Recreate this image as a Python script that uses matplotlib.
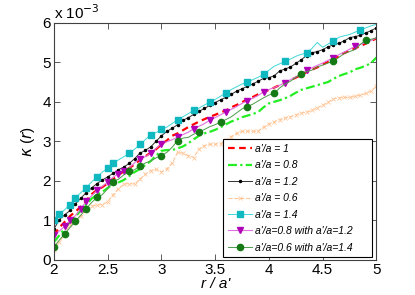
import numpy as np
import matplotlib.pyplot as plt

plt.rcParams['font.family'] = ['Liberation Sans', 'DejaVu Sans']

# r / a' grid
r = np.round(np.arange(2.0, 5.0001, 0.05), 2)

# kappa(r) in units of 1e-3
k_10 = [0.63, 0.82, 0.96, 1.11, 1.22, 1.35, 1.50, 1.66, 1.77, 1.84,
        1.94, 2.04, 2.15, 2.24, 2.32, 2.42, 2.53, 2.62, 2.71, 2.80,
        2.92, 3.02, 3.14, 3.20, 3.28, 3.36, 3.43, 3.50, 3.56, 3.62,
        3.67, 3.73, 3.78, 3.86, 3.92, 3.99, 4.06, 4.12, 4.19, 4.25,
        4.30, 4.36, 4.42, 4.48, 4.55, 4.61, 4.68, 4.75, 4.81, 4.87,
        4.94, 5.01, 5.08, 5.15, 5.23, 5.29, 5.35, 5.41, 5.47, 5.54, 5.60]
k_08 = [0.45, 0.62, 0.80, 0.95, 1.10, 1.25, 1.40, 1.55, 1.64, 1.72,
        1.82, 1.92, 1.96, 2.02, 2.12, 2.22, 2.30, 2.40, 2.50, 2.64,
        2.76, 2.78, 2.78, 2.82, 2.87, 2.95, 3.05, 3.14, 3.20, 3.24,
        3.29, 3.36, 3.43, 3.50, 3.55, 3.61, 3.65, 3.69, 3.74, 3.86,
        3.96, 4.00, 4.04, 4.09, 4.15, 4.23, 4.30, 4.34, 4.38, 4.42,
        4.46, 4.50, 4.58, 4.65, 4.70, 4.74, 4.82, 4.86, 4.91, 4.98, 5.12]
k_12 = [0.78, 1.02, 1.14, 1.25, 1.42, 1.56, 1.70, 1.82, 1.93, 2.02,
        2.10, 2.19, 2.28, 2.35, 2.44, 2.56, 2.70, 2.77, 2.86, 3.00,
        3.14, 3.25, 3.33, 3.42, 3.53, 3.60, 3.68, 3.76, 3.83, 3.91,
        3.98, 4.05, 4.11, 4.19, 4.27, 4.33, 4.39, 4.45, 4.52, 4.59,
        4.61, 4.66, 4.78, 4.83, 4.88, 4.97, 5.06, 5.17, 5.24, 5.27,
        5.32, 5.39, 5.44, 5.48, 5.54, 5.62, 5.65, 5.68, 5.74, 5.80, 5.87]
k_06 = [0.25, 0.45, 0.65, 0.88, 1.02, 1.12, 1.27, 1.36, 1.39, 1.40,
        1.47, 1.65, 1.80, 1.92, 1.93, 1.92, 2.04, 2.17, 2.26, 2.29,
        2.23, 2.30, 2.45, 2.72, 2.70, 2.64, 2.59, 2.80, 2.89, 2.93,
        2.93, 2.94, 3.04, 3.12, 3.20, 3.25, 3.26, 3.25, 3.26, 3.36,
        3.44, 3.50, 3.55, 3.59, 3.62, 3.67, 3.71, 3.74, 3.78, 3.85,
        3.91, 3.99, 4.07, 4.10, 4.11, 4.11, 4.14, 4.17, 4.21, 4.28, 4.39]
k_14 = [1.00, 1.15, 1.27, 1.40, 1.57, 1.70, 1.83, 1.97, 2.10, 2.22,
        2.32, 2.45, 2.53, 2.61, 2.70, 2.80, 2.92, 3.04, 3.17, 3.22,
        3.30, 3.36, 3.45, 3.55, 3.62, 3.70, 3.78, 3.84, 3.92, 3.99,
        4.06, 4.14, 4.23, 4.31, 4.38, 4.45, 4.50, 4.56, 4.62, 4.69,
        4.80, 4.90, 4.96, 5.02, 5.08, 5.15, 5.20, 5.23, 5.35, 5.50,
        5.38, 5.46, 5.53, 5.63, 5.67, 5.70, 5.76, 5.81, 5.87, 5.92, 5.96]
k_08_12 = [0.62, 0.73, 0.85, 1.00, 1.12, 1.30, 1.48, 1.62, 1.76, 1.86,
           1.97, 2.09, 2.18, 2.26, 2.32, 2.46, 2.56, 2.61, 2.70, 2.82,
           2.94, 2.99, 3.04, 3.10, 3.17, 3.23, 3.32, 3.38, 3.45, 3.53,
           3.60, 3.67, 3.74, 3.81, 3.88, 3.96, 4.03, 4.09, 4.16, 4.25,
           4.31, 4.36, 4.42, 4.48, 4.56, 4.63, 4.71, 4.80, 4.86, 4.92,
           4.98, 5.05, 5.11, 5.19, 5.26, 5.33, 5.40, 5.45, 5.50, 5.55, 5.62]
k_06_14 = [0.33, 0.50, 0.66, 0.82, 0.98, 1.13, 1.30, 1.45, 1.58, 1.65,
           1.80, 1.98, 2.04, 2.15, 2.24, 2.28, 2.38, 2.45, 2.50, 2.58,
           2.64, 2.72, 2.85, 3.02, 3.08, 3.10, 3.18, 3.24, 3.30, 3.37,
           3.42, 3.49, 3.55, 3.62, 3.72, 3.82, 3.88, 3.94, 4.02, 4.10,
           4.17, 4.22, 4.35, 4.45, 4.52, 4.62, 4.70, 4.76, 4.80, 4.88,
           4.93, 4.98, 5.03, 5.12, 5.22, 5.27, 5.32, 5.45, 5.56, 5.58, 5.62]

labels = ["a'/a = 1", "a'/a = 0.8", "a'/a = 1.2", "a'/a = 0.6", "a'/a = 1.4",
          "a'/a=0.8 with a'/a=1.2", "a'/a=0.6 with a'/a=1.4"]

# which samples carry a marker
mk_14 = [0, 1, 3, 4, 6, 8, 10, 11, 14, 16, 18, 20, 23, 26, 29, 32, 36, 39, 43, 47, 52, 57]
mk_08_12 = [0, 2, 3, 5, 6, 8, 10, 12, 13, 16, 18, 20, 23, 26, 29, 32, 36, 39, 43, 47, 52, 56]
mk_06_14 = [0, 2, 4, 6, 8, 11, 14, 16, 20, 23, 27, 31, 36, 41, 46, 52, 58]

fig = plt.figure(figsize=(4.15, 2.95), dpi=100)
ax = fig.add_axes([0.130, 0.119, 0.777, 0.804])

ax.plot(r, k_10, '--', color='#ff0000', lw=1.6, dashes=(3, 2), label=labels[0])
ax.plot(r, k_08, '-.', color='#22ee22', lw=1.6, dashes=(4, 1.5, 1, 1.5), label=labels[1])
ax.plot(r, k_12, '-', color='#303030', lw=0.7, marker='.', ms=3,
        mfc='k', mec='k', label=labels[2])
ax.plot(r, k_06, '--', color='#ffc799', lw=0.8, marker='x', ms=2.5,
        mew=0.6, label=labels[3])
ax.plot(r, k_14, '-', color='#40d8d8', lw=0.7, marker='s', ms=3.8,
        mfc='#10b8c0', mec='#10b8c0', markevery=mk_14, label=labels[4])
ax.plot(r, k_08_12, '-', color='#e070e0', lw=0.8, marker='v', ms=5,
        mfc='#b000b8', mec='#b000b8', markevery=mk_08_12, label=labels[5])
ax.plot(r, k_06_14, '-', color='#4c9c4c', lw=0.7, marker='o', ms=4.5,
        mfc='#157a15', mec='#157a15', markevery=mk_06_14, label=labels[6])

ax.set_xlim(2, 5)
ax.set_ylim(0, 6)
ax.set_xticks([2, 2.5, 3, 3.5, 4, 4.5, 5])
ax.set_xticklabels(['2', '2.5', '3', '3.5', '4', '4.5', '5'])
ax.set_yticks(range(7))
ax.tick_params(direction='in', top=True, right=True, labelsize=11,
               length=4, width=0.6, color='#404040', pad=2)
for s in ax.spines.values():
    s.set_linewidth(0.8)
    s.set_color('#404040')

ax.text(0.0, 1.005, r'x 10$^{-3}$', transform=ax.transAxes, fontsize=11,
        ha='left', va='bottom')
ax.set_xlabel("r / a'", fontstyle='italic', fontsize=11, labelpad=0)
ax.set_ylabel(r'$\kappa$ ($r$)', fontsize=11, labelpad=4)

leg = ax.legend(loc='lower left', bbox_to_anchor=(0.524, 0.011, 0.461, 0.504),
                mode='expand', prop={'style': 'italic', 'size': 7.5},
                handlelength=2.3, handletextpad=0.3, labelspacing=0.62,
                borderpad=0.45, borderaxespad=0, fancybox=False,
                edgecolor='k', framealpha=1)
leg.get_frame().set_linewidth(0.8)

fig.savefig('out.png', dpi=100)
